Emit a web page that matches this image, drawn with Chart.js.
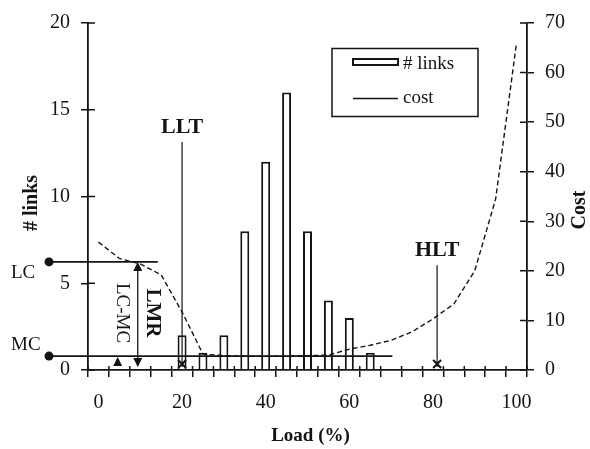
<!DOCTYPE html>
<html><head><meta charset="utf-8">
<script src="https://cdn.jsdelivr.net/npm/chart.js@4/dist/chart.umd.min.js"></script>
<style>html,body{margin:0;padding:0;background:#fff}</style>
</head><body>
<canvas id="c" width="590" height="449"></canvas>
<script>
// ---- data ----
const loadCategories = ['0','5','10','15','20','25','30','35','40','45','50','55','60','65','70','75','80','85','90','95','100'];
const linkCounts = [0,0,0,0,2,1,2,8,12,16,8,4,3,1,0,0,0,0,0,0,0];
const costValues = [25.8,22.5,21.4,19.2,11.7,3.2,2.9,2.8,2.8,2.8,2.9,3.0,4.2,5.0,6.0,7.7,10.3,13.3,20.0,34.5,66.0];
const loadTickLabels = ['0','20','40','60','80','100'];
const seriesNames = ['# links','cost'];
const axisTitles = ['Load (%)','# links','Cost'];
// annotations (values in data units)
const thresholdNames = ['LLT','HLT'];
const thresholdLoads = [20, 81];
const levelNames = ['LC','MC'];
const levelCosts = [21.8, 2.8];
const levelEndLoads = [14.2, 70.3];
const rangeNames = ['LC-MC','LMR'];
const rangeLoad = 9.4;
const pointerLoads = [4.6];

// ---- style ----
const ink = '#141414';
const serif = "'Liberation Serif','DejaVu Serif',serif";
const thresholdLabelAt = [14.0, 6.9]; // on # links axis

const annot = {
  id: 'annot',
  afterDatasetsDraw(chart) {
    const {ctx, chartArea: a, scales: {x, y, y1}} = chart;
    const px = load => x.getPixelForValue(load / 5);
    ctx.save();
    ctx.strokeStyle = ink; ctx.fillStyle = ink;
    // inner halves of tick marks
    ctx.lineWidth = 1.5;
    ctx.beginPath();
    y.ticks.forEach(t => { const p = y.getPixelForValue(t.value); ctx.moveTo(a.left, p); ctx.lineTo(a.left + 7, p); });
    y1.ticks.forEach(t => { const p = y1.getPixelForValue(t.value); ctx.moveTo(a.right - 7, p); ctx.lineTo(a.right, p); });
    for (let i = 0; i <= loadCategories.length; i++) {
      const b = x.getPixelForValue(i - 0.5);
      ctx.moveTo(b, a.bottom); ctx.lineTo(b, a.bottom - 4);
    }
    ctx.stroke();

    // levels LC / MC
    const dotX = a.left - 39;
    levelNames.forEach((n, i) => {
      const py = y1.getPixelForValue(levelCosts[i]);
      ctx.lineWidth = 1.8;
      ctx.beginPath(); ctx.moveTo(dotX, py); ctx.lineTo(px(levelEndLoads[i]), py); ctx.stroke();
      ctx.beginPath(); ctx.arc(dotX, py, 4.5, 0, Math.PI * 2); ctx.fill();
      ctx.font = `19px ${serif}`; ctx.textAlign = 'left'; ctx.textBaseline = 'middle';
      ctx.fillText(n, 11, i === 0 ? py + 11 : py - 11);
    });
    const yLC = y1.getPixelForValue(levelCosts[0]);
    const yMC = y1.getPixelForValue(levelCosts[1]);

    // LMR double arrow
    const ax = px(rangeLoad);
    ctx.lineWidth = 1.3;
    ctx.beginPath(); ctx.moveTo(ax, yLC + 2); ctx.lineTo(ax, a.bottom - 4); ctx.stroke();
    ctx.beginPath(); ctx.moveTo(ax, yLC); ctx.lineTo(ax - 4.5, yLC + 9); ctx.lineTo(ax + 4.5, yLC + 9); ctx.closePath(); ctx.fill();
    ctx.beginPath(); ctx.moveTo(ax, a.bottom - 3); ctx.lineTo(ax - 4.5, a.bottom - 12); ctx.lineTo(ax + 4.5, a.bottom - 12); ctx.closePath(); ctx.fill();
    pointerLoads.forEach(l => {
      const tx = px(l);
      ctx.beginPath(); ctx.moveTo(tx, a.bottom - 13); ctx.lineTo(tx - 4.5, a.bottom - 4); ctx.lineTo(tx + 4.5, a.bottom - 4); ctx.closePath(); ctx.fill();
    });
    const midY = (yLC + yMC) / 2 + 4;
    ctx.textAlign = 'center'; ctx.textBaseline = 'middle';
    [[rangeNames[0], ax - 16, `19px ${serif}`], [rangeNames[1], ax + 15, `bold 21px ${serif}`]].forEach(([t, cx, f]) => {
      ctx.save(); ctx.translate(cx, midY); ctx.rotate(Math.PI / 2); ctx.font = f; ctx.fillText(t, 0, 0); ctx.restore();
    });

    // thresholds LLT / HLT
    thresholdNames.forEach((n, i) => {
      const tx = px(thresholdLoads[i]);
      const ly = y.getPixelForValue(thresholdLabelAt[i]);
      ctx.font = `bold 22px ${serif}`; ctx.textAlign = 'center'; ctx.textBaseline = 'middle';
      ctx.fillText(n, tx, ly);
      ctx.lineWidth = 1.2;
      ctx.beginPath(); ctx.moveTo(tx, ly + 15); ctx.lineTo(tx, a.bottom - 3); ctx.stroke();
      // foot marker
      ctx.lineWidth = 2;
      ctx.beginPath();
      ctx.moveTo(tx - 4, a.bottom - 10); ctx.lineTo(tx + 4, a.bottom - 2);
      ctx.moveTo(tx + 4, a.bottom - 10); ctx.lineTo(tx - 4, a.bottom - 2);
      ctx.stroke();
    });

    // legend
    ctx.lineWidth = 1.5;
    ctx.strokeRect(332, 48.5, 146, 68);
    ctx.fillStyle = '#fff'; ctx.lineWidth = 2;
    ctx.fillRect(353, 59, 45, 6); ctx.strokeRect(353, 59, 45, 6);
    ctx.fillStyle = ink; ctx.lineWidth = 1.5;
    ctx.beginPath(); ctx.moveTo(353, 98.5); ctx.lineTo(398, 98.5); ctx.stroke();
    ctx.font = `19px ${serif}`; ctx.textAlign = 'left'; ctx.textBaseline = 'middle';
    ctx.fillText(seriesNames[0], 403, 64);
    ctx.fillText(seriesNames[1], 403, 98);

    // axis titles
    ctx.font = `bold 19px ${serif}`; ctx.textAlign = 'center';
    ctx.fillText(axisTitles[0], (a.left + a.right) / 2 + 3, 436);
    ctx.save(); ctx.translate(32, 203); ctx.rotate(-Math.PI / 2); ctx.font = `bold 20px ${serif}`; ctx.fillText(axisTitles[1], 0, 0); ctx.restore();
    ctx.save(); ctx.translate(580, 210); ctx.rotate(-Math.PI / 2); ctx.font = `bold 20px ${serif}`; ctx.fillText(axisTitles[2], 0, 0); ctx.restore();
    ctx.restore();
  }
};

const tickFont = {family: serif, size: 20};
new Chart(document.getElementById('c'), {
  type: 'bar',
  data: {
    labels: loadCategories,
    datasets: [
      {type: 'line', label: seriesNames[1], data: costValues, yAxisID: 'y1', order: 0,
       borderColor: ink, borderWidth: 1.4, borderDash: [5, 3], pointRadius: 0, tension: 0, fill: false},
      {type: 'bar', label: seriesNames[0], data: linkCounts, yAxisID: 'y', order: 1,
       backgroundColor: '#fff', borderColor: ink, borderWidth: 2, barPercentage: 0.43, categoryPercentage: 1}
    ]
  },
  options: {
    responsive: false, devicePixelRatio: 1, animation: false,
    layout: {padding: {top: 19, left: 0, right: 0, bottom: 0}},
    plugins: {legend: {display: false}, tooltip: {enabled: false}},
    scales: {
      x: {
        offset: true,
        grid: {offset: true, drawOnChartArea: false, drawTicks: true, tickLength: 7, color: ink, lineWidth: 1.5},
        border: {color: ink, width: 1.8},
        ticks: {autoSkip: false, maxRotation: 0, minRotation: 0, padding: 14, color: ink, font: tickFont,
                callback: (v, i) => loadTickLabels.includes(loadCategories[i]) ? loadCategories[i] : ''},
        afterFit: s => { s.height = 79; }
      },
      y: {
        position: 'left', min: 0, max: 20,
        grid: {drawOnChartArea: false, drawTicks: true, tickLength: 7, color: ink, lineWidth: 1.5},
        border: {color: ink, width: 1.8},
        ticks: {stepSize: 5, padding: 11, color: ink, font: tickFont},
        afterFit: s => { s.width = 88; }
      },
      y1: {
        position: 'right', min: 0, max: 70,
        grid: {drawOnChartArea: false, drawTicks: true, tickLength: 7, color: ink, lineWidth: 1.5},
        border: {color: ink, width: 1.8},
        ticks: {stepSize: 10, padding: 11, color: ink, font: tickFont},
        afterFit: s => { s.width = 63; }
      }
    }
  },
  plugins: [annot]
});
</script>
</body></html>
